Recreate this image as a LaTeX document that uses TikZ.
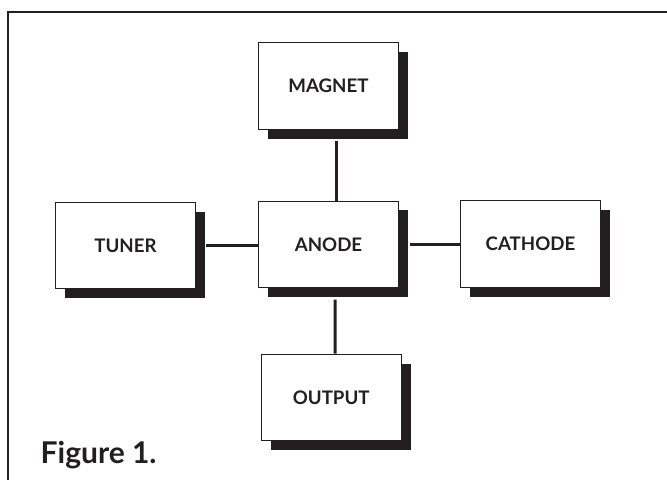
\documentclass[tikz,border=0pt]{standalone}
\usepackage{fontspec}
\setmainfont{Lato}
\usetikzlibrary{shadows}
\definecolor{ink}{HTML}{231F20}

\tikzset{
  unit/.style={draw=ink, line width=0.8pt, fill=white,
    minimum width=105pt, minimum height=65pt, inner sep=0pt,
    font=\bfseries\fontsize{14}{16}\selectfont, text=ink,
    drop shadow={shadow xshift=7pt, shadow yshift=-7pt, opacity=1, fill=ink}},
  wire/.style={draw=ink, line width=2.2pt},
}

\begin{document}
\begin{tikzpicture}[x=0.75pt, y=-0.75pt]
  \useasboundingbox (0,0) rectangle (667,479);
  % frame
  \draw[ink, line width=1.6pt] (672,11.8) -- (7.8,11.8) -- (7.8,484);

  \node[unit] (magnet) at (328.5,85.9) {MAGNET};
  \node[unit] (anode) at (328.5,244.4) {ANODE};
  \node[unit] (tuner) at (125.5,245.5) {TUNER};
  \node[unit] (cathode) at (530.5,244.2) {CATHODE};
  \node[unit] (output) at (331.2,397.5) {OUTPUT};

  \draw[wire] ([xshift=6pt,yshift=-8.5pt]magnet.south) -- ([xshift=6pt]anode.north);
  \draw[wire] ([xshift=5pt,yshift=-8.5pt]anode.south) -- ([xshift=3pt]output.north);
  \draw[wire] ([xshift=7.5pt]tuner.east) -- (tuner.east -| anode.west);
  \draw[wire] ([xshift=8pt]anode.east) -- (anode.east -| cathode.west);

  \node[anchor=base west, text=ink, font=\bfseries\fontsize{22.5}{26}\selectfont] (caption) at (36,463) {Figure 1.};
\end{tikzpicture}
\end{document}
